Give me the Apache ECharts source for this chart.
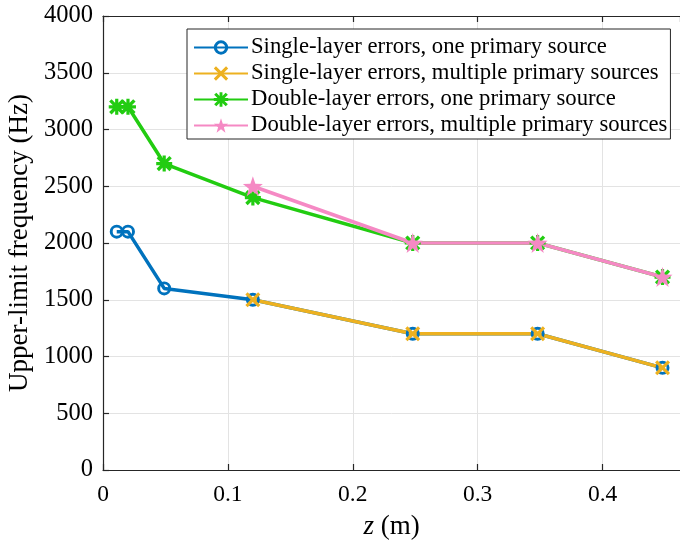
<!DOCTYPE html>
<html>
<head>
<meta charset="utf-8">
<script src="https://cdn.jsdelivr.net/npm/echarts@6/dist/echarts.min.js"></script>
<style>
  html, body { margin: 0; padding: 0; background: #fff; }
  #chart { width: 680px; height: 544px; }
</style>
</head>
<body>
<div id="chart"></div>
<script>
// data
var zAll = [0.011, 0.02, 0.049, 0.12, 0.248, 0.348, 0.448];
var zMulti = [0.12, 0.248, 0.348, 0.448];
var singleOne = [2100, 2100, 1600, 1500, 1200, 1200, 900];
var singleMulti = [1500, 1200, 1200, 900];
var doubleOne = [3200, 3200, 2700, 2400, 2000, 2000, 1700];
var doubleMulti = [2500, 2000, 2000, 1700];
var seriesNames = [
  'Single-layer errors, one primary source',
  'Single-layer errors, multiple primary sources',
  'Double-layer errors, one primary source',
  'Double-layer errors, multiple primary sources'
];

var FONT = '"Liberation Serif", "Times New Roman", serif';
// ring drawn as outer circle minus inner circle (opposite winding)
var ringPath = 'path://M10,0A10,10 0 1,1 10,20A10,10 0 1,1 10,0Z M10,4.2A5.8,5.8 0 1,0 10,15.8A5.8,5.8 0 1,0 10,4.2Z';
var crossPath = 'path://M0,3L3,0L10,7L17,0L20,3L13,10L20,17L17,20L10,13L3,20L0,17L7,10Z';
var asteriskPath = 'path://M8,0H12V20H8Z M0,8H20V12H0Z M0.5,3.5L3.5,0.5L19.5,16.5L16.5,19.5Z M16.5,0.5L19.5,3.5L3.5,19.5L0.5,16.5Z';
var starPath = 'path://M10,0L12.35,6.76L19.51,6.91L13.8,11.24L15.88,18.09L10,13.82L4.12,18.09L6.2,11.24L0.49,6.91L7.65,6.76Z';

function pairs(xs, ys) {
  var res = [];
  for (var i = 0; i < xs.length; i++) res.push([xs[i], ys[i]]);
  return res;
}

var chart = echarts.init(document.getElementById('chart'));

var axisLineStyle = { color: '#262626', width: 1.2 };

var option = {
  animation: false,
  backgroundColor: '#fff',
  textStyle: { fontFamily: FONT },
  grid: { left: 103, top: 16, right: 0, bottom: 74, outerBoundsMode: 'none', containLabel: false },
  legend: {
    orient: 'vertical',
    left: 187,
    top: 29,
    itemWidth: 54,
    itemHeight: 18,
    itemGap: 3,
    padding: [7, 3, 2, 6],
    borderColor: '#262626',
    borderWidth: 1,
    backgroundColor: '#fff',
    textStyle: { fontFamily: FONT, fontSize: 22.7, lineHeight: 23, color: '#000', padding: [0, 0, 0, -2] },
    data: seriesNames
  },
  xAxis: [{
    type: 'value',
    min: 0,
    max: 0.462,
    interval: 0.1,
    position: 'bottom',
    name: '{i|z} (m)',
    nameLocation: 'middle',
    nameGap: 43,
    nameTextStyle: {
      fontFamily: FONT, fontSize: 27, color: '#000',
      rich: { i: { fontFamily: FONT, fontSize: 27, fontStyle: 'italic', color: '#000' } }
    },
    axisLine: { show: true, lineStyle: axisLineStyle },
    axisTick: { show: true, inside: true, length: 6, lineStyle: axisLineStyle },
    axisLabel: {
      fontFamily: FONT, fontSize: 23.5, color: '#000', margin: 13,
      showMaxLabel: false,
      formatter: function (v) { return v === 0 ? '0' : String(Math.round(v * 10) / 10); }
    },
    splitLine: { show: true, lineStyle: { color: '#e3e3e3', width: 1 } }
  }, {
    type: 'value',
    min: 0,
    max: 0.462,
    interval: 0.1,
    position: 'top',
    axisLine: { show: true, lineStyle: axisLineStyle },
    axisTick: { show: true, inside: true, length: 6, lineStyle: axisLineStyle },
    axisLabel: { show: false },
    splitLine: { show: false }
  }],
  yAxis: {
    type: 'value',
    min: 0,
    max: 4000,
    interval: 500,
    name: 'Upper-limit frequency (Hz)',
    nameLocation: 'middle',
    nameGap: 63,
    nameTextStyle: { fontFamily: FONT, fontSize: 27, color: '#000' },
    axisLine: { show: true, lineStyle: axisLineStyle },
    axisTick: { show: true, inside: true, length: 6, lineStyle: axisLineStyle },
    axisLabel: {
      fontFamily: FONT, fontSize: 24.5, color: '#000', margin: 10,
      formatter: function (v) { return String(v); }
    },
    splitLine: { show: true, lineStyle: { color: '#e3e3e3', width: 1 } }
  },
  series: [{
    name: seriesNames[0],
    type: 'line',
    data: pairs(zAll, singleOne),
    symbol: ringPath,
    symbolSize: 14,
    lineStyle: { color: '#0072BD', width: 3.5 },
    itemStyle: { color: '#0072BD' }
  }, {
    name: seriesNames[1],
    type: 'line',
    data: pairs(zMulti, singleMulti),
    symbol: crossPath,
    symbolSize: 15,
    lineStyle: { color: '#EDB120', width: 3.5 },
    itemStyle: { color: '#EDB120' }
  }, {
    name: seriesNames[2],
    type: 'line',
    data: pairs(zAll, doubleOne),
    symbol: asteriskPath,
    symbolSize: 16,
    lineStyle: { color: '#22CC11', width: 3.5 },
    itemStyle: { color: '#22CC11' }
  }, {
    name: seriesNames[3],
    type: 'line',
    data: pairs(zMulti, doubleMulti),
    symbol: starPath,
    symbolSize: 20,
    lineStyle: { color: '#F589C4', width: 3.5 },
    itemStyle: { color: '#F589C4' }
  }]
};

chart.setOption(option);
</script>
</body>
</html>
